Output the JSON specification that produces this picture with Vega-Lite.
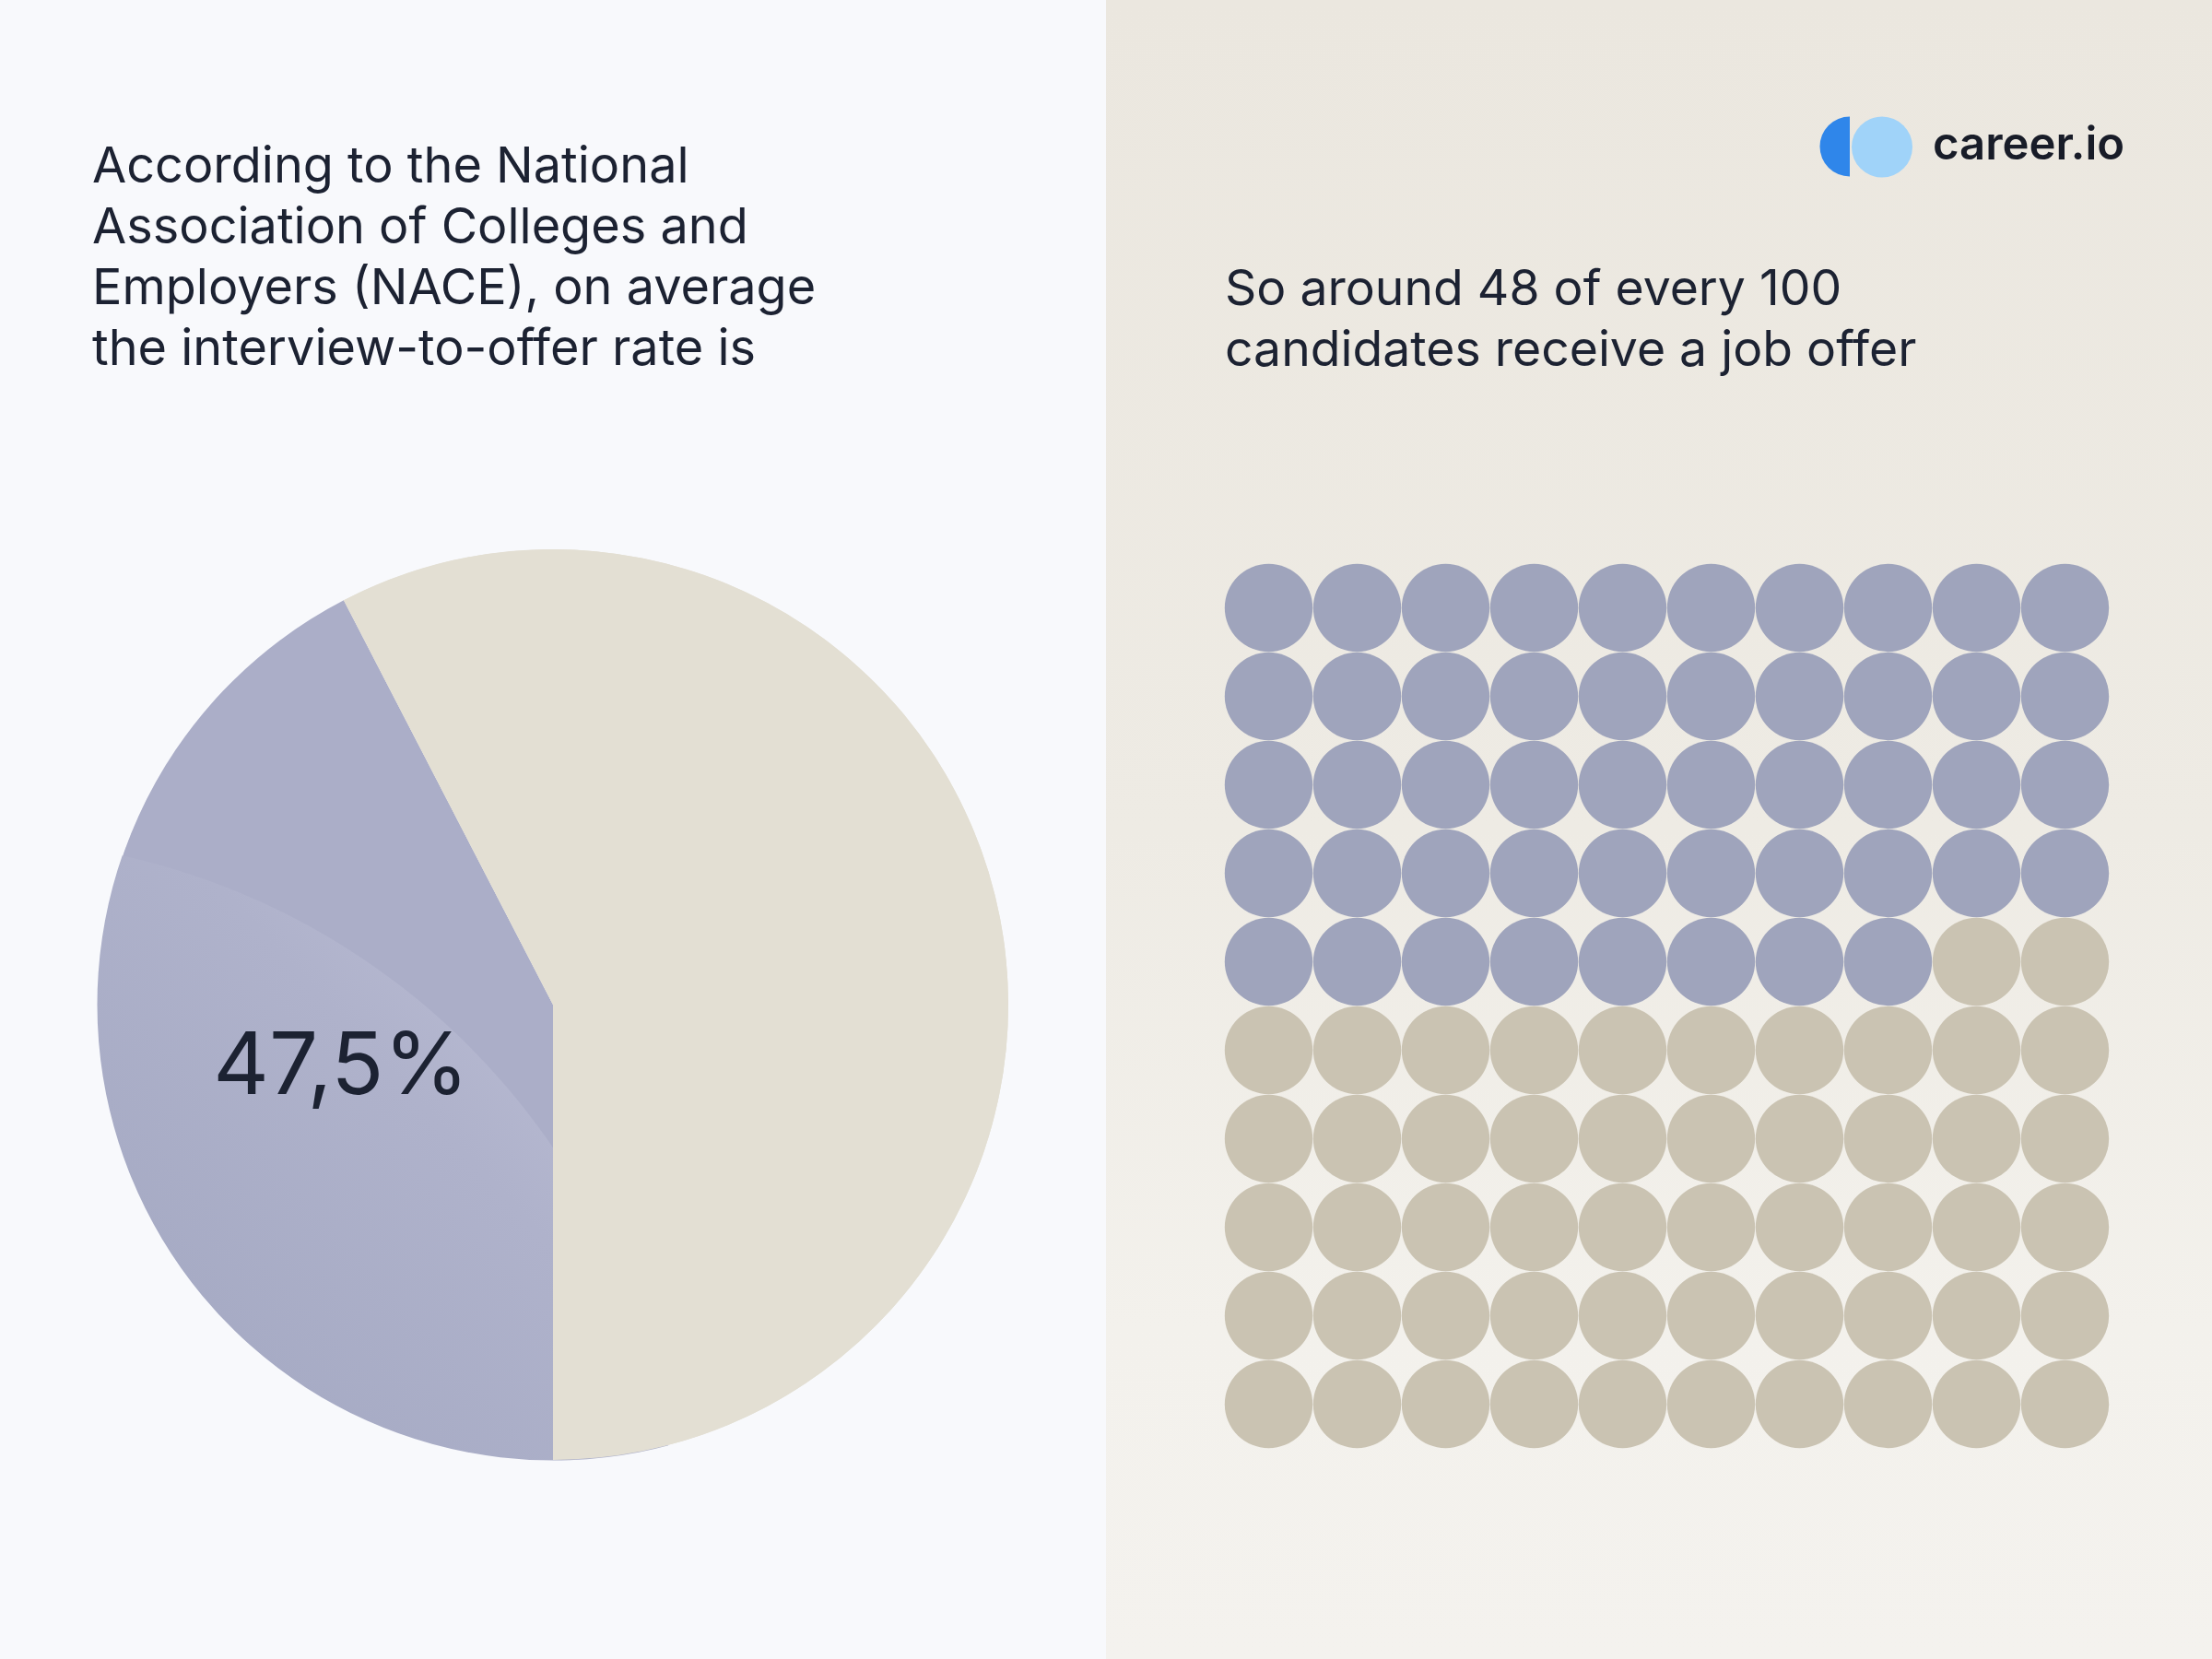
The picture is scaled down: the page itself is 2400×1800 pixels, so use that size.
{
  "$schema": "https://vega.github.io/schema/vega-lite/v6.json",
  "width": 2400,
  "height": 1800,
  "autosize": {"type": "none"},
  "padding": 0,
  "background": "#f8f9fc",
  "config": {"view": {"stroke": null}, "font": "Inter"},
  "datasets": {
    "pie": [
      {"category": "Offer", "share": 42.4, "order": 1},
      {"category": "No offer", "share": 57.6, "order": 2}
    ],
    "waffle": [
      {"r":1,"c":1,"status":"Offer"},{"r":1,"c":2,"status":"Offer"},{"r":1,"c":3,"status":"Offer"},{"r":1,"c":4,"status":"Offer"},{"r":1,"c":5,"status":"Offer"},{"r":1,"c":6,"status":"Offer"},{"r":1,"c":7,"status":"Offer"},{"r":1,"c":8,"status":"Offer"},{"r":1,"c":9,"status":"Offer"},{"r":1,"c":10,"status":"Offer"},
      {"r":2,"c":1,"status":"Offer"},{"r":2,"c":2,"status":"Offer"},{"r":2,"c":3,"status":"Offer"},{"r":2,"c":4,"status":"Offer"},{"r":2,"c":5,"status":"Offer"},{"r":2,"c":6,"status":"Offer"},{"r":2,"c":7,"status":"Offer"},{"r":2,"c":8,"status":"Offer"},{"r":2,"c":9,"status":"Offer"},{"r":2,"c":10,"status":"Offer"},
      {"r":3,"c":1,"status":"Offer"},{"r":3,"c":2,"status":"Offer"},{"r":3,"c":3,"status":"Offer"},{"r":3,"c":4,"status":"Offer"},{"r":3,"c":5,"status":"Offer"},{"r":3,"c":6,"status":"Offer"},{"r":3,"c":7,"status":"Offer"},{"r":3,"c":8,"status":"Offer"},{"r":3,"c":9,"status":"Offer"},{"r":3,"c":10,"status":"Offer"},
      {"r":4,"c":1,"status":"Offer"},{"r":4,"c":2,"status":"Offer"},{"r":4,"c":3,"status":"Offer"},{"r":4,"c":4,"status":"Offer"},{"r":4,"c":5,"status":"Offer"},{"r":4,"c":6,"status":"Offer"},{"r":4,"c":7,"status":"Offer"},{"r":4,"c":8,"status":"Offer"},{"r":4,"c":9,"status":"Offer"},{"r":4,"c":10,"status":"Offer"},
      {"r":5,"c":1,"status":"Offer"},{"r":5,"c":2,"status":"Offer"},{"r":5,"c":3,"status":"Offer"},{"r":5,"c":4,"status":"Offer"},{"r":5,"c":5,"status":"Offer"},{"r":5,"c":6,"status":"Offer"},{"r":5,"c":7,"status":"Offer"},{"r":5,"c":8,"status":"Offer"},{"r":5,"c":9,"status":"No offer"},{"r":5,"c":10,"status":"No offer"},
      {"r":6,"c":1,"status":"No offer"},{"r":6,"c":2,"status":"No offer"},{"r":6,"c":3,"status":"No offer"},{"r":6,"c":4,"status":"No offer"},{"r":6,"c":5,"status":"No offer"},{"r":6,"c":6,"status":"No offer"},{"r":6,"c":7,"status":"No offer"},{"r":6,"c":8,"status":"No offer"},{"r":6,"c":9,"status":"No offer"},{"r":6,"c":10,"status":"No offer"},
      {"r":7,"c":1,"status":"No offer"},{"r":7,"c":2,"status":"No offer"},{"r":7,"c":3,"status":"No offer"},{"r":7,"c":4,"status":"No offer"},{"r":7,"c":5,"status":"No offer"},{"r":7,"c":6,"status":"No offer"},{"r":7,"c":7,"status":"No offer"},{"r":7,"c":8,"status":"No offer"},{"r":7,"c":9,"status":"No offer"},{"r":7,"c":10,"status":"No offer"},
      {"r":8,"c":1,"status":"No offer"},{"r":8,"c":2,"status":"No offer"},{"r":8,"c":3,"status":"No offer"},{"r":8,"c":4,"status":"No offer"},{"r":8,"c":5,"status":"No offer"},{"r":8,"c":6,"status":"No offer"},{"r":8,"c":7,"status":"No offer"},{"r":8,"c":8,"status":"No offer"},{"r":8,"c":9,"status":"No offer"},{"r":8,"c":10,"status":"No offer"},
      {"r":9,"c":1,"status":"No offer"},{"r":9,"c":2,"status":"No offer"},{"r":9,"c":3,"status":"No offer"},{"r":9,"c":4,"status":"No offer"},{"r":9,"c":5,"status":"No offer"},{"r":9,"c":6,"status":"No offer"},{"r":9,"c":7,"status":"No offer"},{"r":9,"c":8,"status":"No offer"},{"r":9,"c":9,"status":"No offer"},{"r":9,"c":10,"status":"No offer"},
      {"r":10,"c":1,"status":"No offer"},{"r":10,"c":2,"status":"No offer"},{"r":10,"c":3,"status":"No offer"},{"r":10,"c":4,"status":"No offer"},{"r":10,"c":5,"status":"No offer"},{"r":10,"c":6,"status":"No offer"},{"r":10,"c":7,"status":"No offer"},{"r":10,"c":8,"status":"No offer"},{"r":10,"c":9,"status":"No offer"},{"r":10,"c":10,"status":"No offer"}
    ],
    "one": [{}]
  },
  "layer": [
    {
      "data": {"name": "pie"},
      "mark": {"type": "arc", "x": 600, "y": 1090, "outerRadius": 494},
      "encoding": {
        "theta": {"field": "share", "type": "quantitative", "stack": true, "scale": {"range": [3.14159265, 9.42477796]}},
        "order": {"field": "order", "type": "quantitative"},
        "color": {"field": "category", "type": "nominal", "legend": null,
          "scale": {"domain": ["Offer", "No offer"], "range": ["#abaec8", "#e3dfd3"]}}
      }
    },
    {
      "data": {"name": "one"},
      "mark": {"type": "arc", "x": -34, "y": 1677, "theta": 0.17, "theta2": 1.75, "outerRadius": 767,
        "color": {"gradient": "linear", "x1": 0.85, "y1": 0.05, "x2": 0.2, "y2": 0.75,
          "stops": [{"offset": 0, "color": "#bdbfd6"}, {"offset": 0.35, "color": "#afb2cb"}, {"offset": 1, "color": "#a2a7c1"}]}},
      "encoding": {}
    },
    {
      "data": {"name": "one"},
      "mark": {"type": "arc", "x": 600, "y": 1090, "theta": 2.8, "theta2": 5.24, "innerRadius": 494.5, "outerRadius": 880, "color": "#f8f9fc"},
      "encoding": {}
    },
    {
      "data": {"name": "one"},
      "mark": {"type": "arc", "x": 600, "y": 1090, "theta": 0, "theta2": 3.14159265, "outerRadius": 494, "color": "#e3dfd3"},
      "encoding": {}
    },
    {
      "data": {"name": "one"},
      "mark": {"type": "arc", "x": 600, "y": 1090, "theta": 5.806, "theta2": 6.2832, "outerRadius": 494, "color": "#e3dfd3"},
      "encoding": {}
    },
    {
      "data": {"name": "one"},
      "mark": {"type": "text", "x": 370, "y": 1187, "text": "47,5%", "align": "center", "baseline": "alphabetic",
        "fontSize": 94, "font": "Inter", "fontWeight": 400, "color": "#1c2232"},
      "encoding": {}
    },
    {
      "data": {"name": "one"},
      "mark": {"type": "text", "x": 100, "y": 198,
        "text": ["According to the National", "Association of Colleges and", "Employers (NACE), on average", "the interview-to-offer rate is"],
        "lineHeight": 66, "align": "left", "baseline": "alphabetic", "fontSize": 54, "font": "Inter", "color": "#1c2232"},
      "encoding": {}
    },
    {
      "data": {"name": "one"},
      "mark": {"type": "rect", "x": 1200, "x2": 2400, "y": 0, "y2": 1800,
        "color": {"gradient": "linear", "x1": 0, "y1": 0, "x2": 0, "y2": 1,
          "stops": [{"offset": 0, "color": "#ebe7df"}, {"offset": 0.5, "color": "#eeebe4"}, {"offset": 0.8, "color": "#f3f1ec"}, {"offset": 1, "color": "#f4f2ee"}]}},
      "encoding": {}
    },
    {
      "data": {"name": "waffle"},
      "mark": {"type": "point", "shape": "circle", "filled": true, "opacity": 1, "size": 9100},
      "encoding": {
        "x": {"field": "c", "type": "quantitative", "axis": null, "scale": {"domain": [1, 10], "range": [1376.5, 2240.5]}},
        "y": {"field": "r", "type": "quantitative", "axis": null, "scale": {"domain": [1, 10], "range": [659.5, 1523.5]}},
        "color": {"field": "status", "type": "nominal", "legend": null,
          "scale": {"domain": ["Offer", "No offer"], "range": ["#9fa4bc", "#cac3b2"]}}
      }
    },
    {
      "data": {"name": "one"},
      "mark": {"type": "text", "x": 1329, "y": 331,
        "text": ["So around 48 of every 100", "candidates receive a job offer"],
        "lineHeight": 66, "align": "left", "baseline": "alphabetic", "fontSize": 53.5, "font": "Inter", "color": "#1c2232"},
      "encoding": {}
    },
    {
      "data": {"name": "one"},
      "mark": {"type": "arc", "x": 2007, "y": 159, "theta": 3.14159265, "theta2": 6.2832, "outerRadius": 32.5, "color": "#2f86ea"},
      "encoding": {}
    },
    {
      "data": {"name": "one"},
      "mark": {"type": "arc", "x": 2042, "y": 159.5, "theta": 0, "theta2": 6.2832, "outerRadius": 33, "color": "#a0d3f9"},
      "encoding": {}
    },
    {
      "data": {"name": "one"},
      "mark": {"type": "text", "x": 2097, "y": 173, "text": "career.io", "align": "left", "baseline": "alphabetic",
        "fontSize": 49, "font": "Inter", "fontWeight": 600, "color": "#181c28"},
      "encoding": {}
    }
  ],
  "resolve": {"scale": {"x": "independent", "y": "independent", "color": "independent", "theta": "independent"}}
}
